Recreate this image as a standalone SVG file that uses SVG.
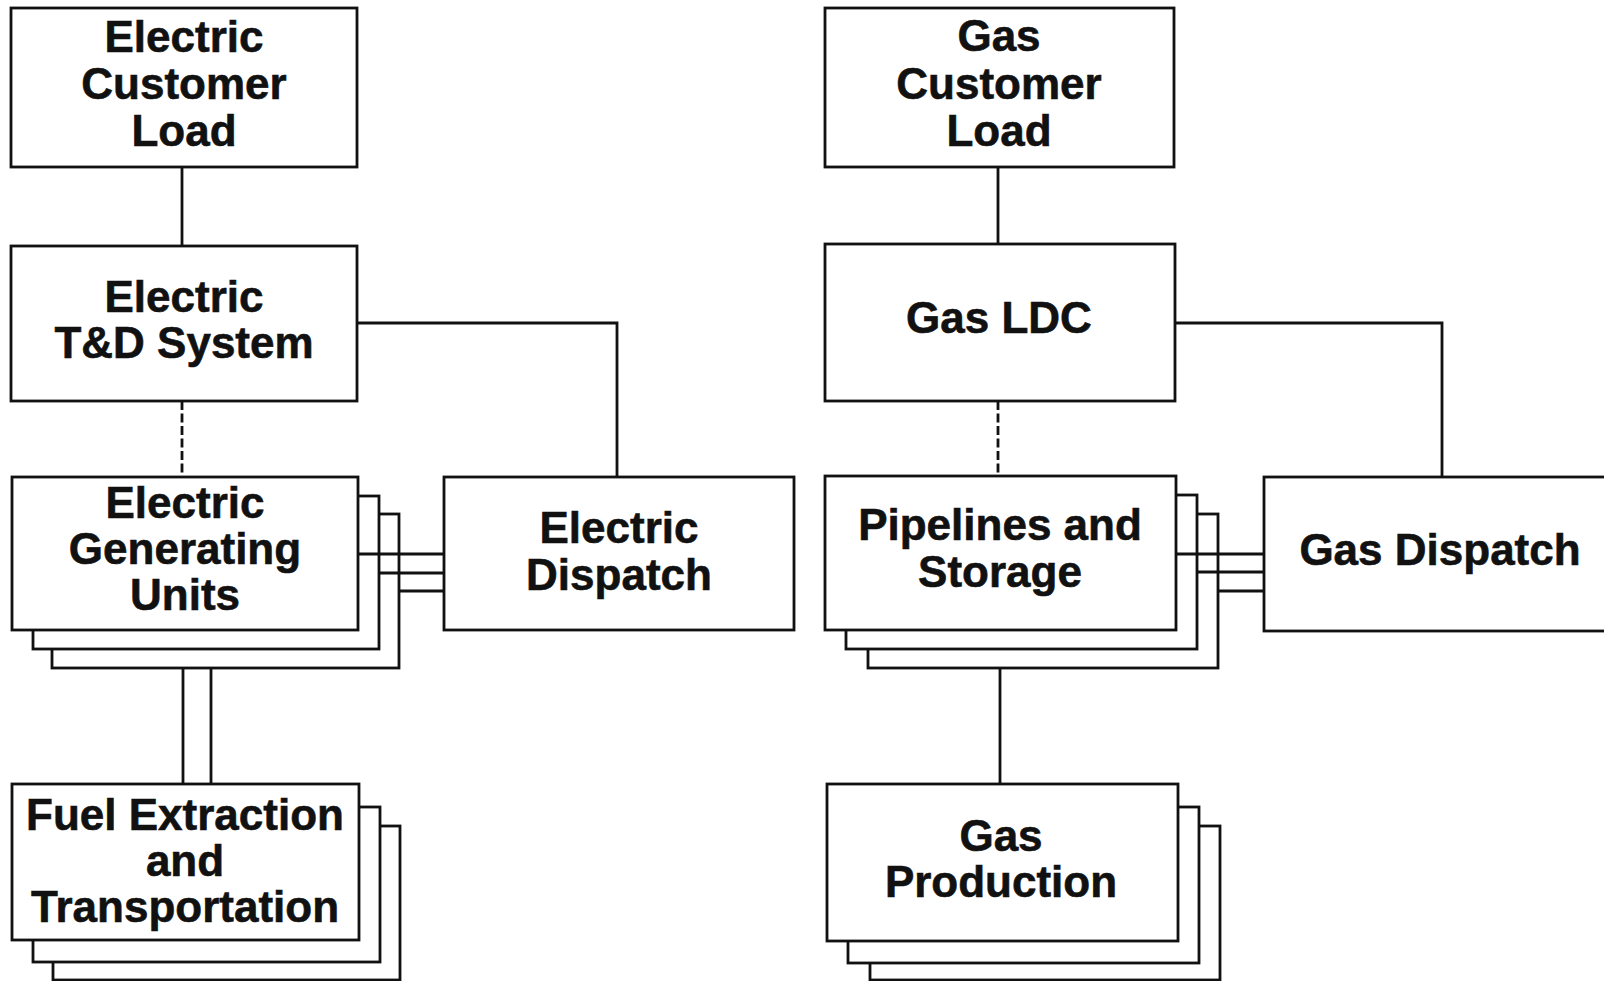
<svg xmlns="http://www.w3.org/2000/svg" width="1604" height="981" viewBox="0 0 1604 981">
<style>
.box{fill:#fff;stroke:#111;stroke-width:2.8}
.ln{fill:none;stroke:#111;stroke-width:2.8}
.dash{fill:none;stroke:#111;stroke-width:2.8;stroke-dasharray:9 3.5}
.t{font-family:"Liberation Sans",Arial,Helvetica,sans-serif;font-weight:bold;font-size:44px;fill:#111;stroke:#111;stroke-width:0.6;text-anchor:middle}
</style>
<rect width="1604" height="981" fill="#fff"/>
<g id="electric-customer-load">
<rect class="box" x="11" y="8" width="346" height="159"/>
<text class="t" x="184" y="52">Electric</text>
<text class="t" x="184" y="99">Customer</text>
<text class="t" x="184" y="146">Load</text>
</g>
<g id="electric-td-system">
<rect class="box" x="11" y="246" width="346" height="155"/>
<text class="t" x="184" y="312">Electric</text>
<text class="t" x="184" y="358">T&amp;D System</text>
</g>
<g id="electric-generating-units">
<rect class="box" x="52" y="514" width="347" height="154"/>
<rect class="box" x="33" y="496" width="346" height="153"/>
<rect class="box" x="12" y="477" width="346" height="153"/>
<text class="t" x="185" y="518">Electric</text>
<text class="t" x="185" y="564">Generating</text>
<text class="t" x="185" y="610">Units</text>
</g>
<g id="electric-dispatch">
<rect class="box" x="444" y="477" width="350" height="153"/>
<text class="t" x="619" y="543">Electric</text>
<text class="t" x="619" y="590">Dispatch</text>
</g>
<g id="fuel-extraction">
<rect class="box" x="53" y="826" width="347" height="154"/>
<rect class="box" x="33" y="807" width="347" height="155"/>
<rect class="box" x="12" y="784" width="347" height="156"/>
<text class="t" x="185" y="830">Fuel Extraction</text>
<text class="t" x="185" y="876">and</text>
<text class="t" x="185" y="922">Transportation</text>
</g>
<g id="gas-customer-load">
<rect class="box" x="825" y="8" width="349" height="159"/>
<text class="t" x="999" y="51">Gas</text>
<text class="t" x="999" y="99">Customer</text>
<text class="t" x="999" y="146">Load</text>
</g>
<g id="gas-ldc">
<rect class="box" x="825" y="244" width="350" height="157"/>
<text class="t" x="999" y="333">Gas LDC</text>
</g>
<g id="pipelines-storage">
<rect class="box" x="868" y="514" width="350" height="154"/>
<rect class="box" x="846" y="495" width="351" height="154"/>
<rect class="box" x="825" y="476" width="351" height="154"/>
<text class="t" x="1000" y="540">Pipelines and</text>
<text class="t" x="1000" y="587">Storage</text>
</g>
<g id="gas-dispatch">
<rect class="box" x="1264" y="477" width="360" height="154"/>
<text class="t" x="1440" y="565">Gas Dispatch</text>
</g>
<g id="gas-production">
<rect class="box" x="870" y="826" width="350" height="154"/>
<rect class="box" x="848" y="807" width="351" height="156"/>
<rect class="box" x="827" y="784" width="351" height="157"/>
<text class="t" x="1001" y="851">Gas</text>
<text class="t" x="1001" y="897">Production</text>
</g>
<g id="connectors">
<line class="ln" x1="182" y1="167" x2="182" y2="246"/>
<line class="dash" x1="182" y1="401" x2="182" y2="477"/>
<polyline class="ln" points="357,323 617,323 617,477"/>
<line class="ln" x1="358" y1="554" x2="444" y2="554"/>
<line class="ln" x1="379" y1="573" x2="444" y2="573"/>
<line class="ln" x1="399" y1="591" x2="444" y2="591"/>
<line class="ln" x1="183" y1="668" x2="183" y2="784"/>
<line class="ln" x1="211" y1="668" x2="211" y2="784"/>
<line class="ln" x1="998" y1="167" x2="998" y2="244"/>
<line class="dash" x1="998" y1="401" x2="998" y2="476"/>
<polyline class="ln" points="1175,323 1442,323 1442,477"/>
<line class="ln" x1="1176" y1="554" x2="1264" y2="554"/>
<line class="ln" x1="1197" y1="572" x2="1264" y2="572"/>
<line class="ln" x1="1218" y1="591" x2="1264" y2="591"/>
<line class="ln" x1="1000" y1="668" x2="1000" y2="784"/>
</g>
</svg>
